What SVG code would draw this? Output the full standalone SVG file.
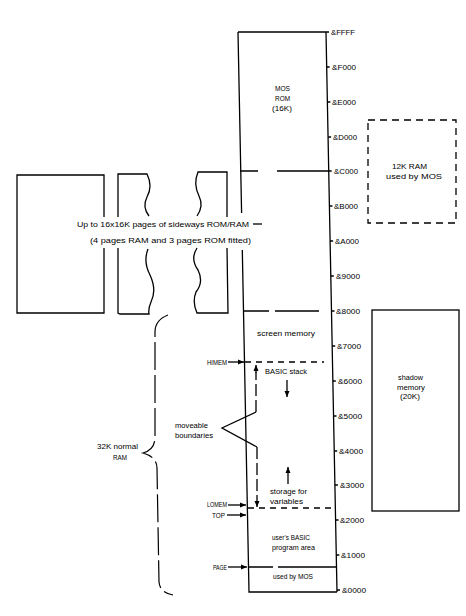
<svg xmlns="http://www.w3.org/2000/svg" width="466" height="616" viewBox="0 0 466 616">
<style>
.l{fill:none;stroke:#000;stroke-width:1.3}
.d{fill:none;stroke:#000;stroke-width:1.3;stroke-dasharray:6 5}
.b{fill:none;stroke:#000;stroke-width:1.2;stroke-dasharray:28 5}
text{font-family:"Liberation Sans",Arial,sans-serif;font-size:8px;fill:#000}
</style>
<defs>
<marker id="ah" markerWidth="6" markerHeight="6" refX="6" refY="3" orient="auto" markerUnits="userSpaceOnUse"><path d="M0,0.5 L6,3 L0,5.5 z" fill="#000"/></marker>
</defs>
<rect width="466" height="616" fill="#fff"/>

<g id="memory-column">
<path class="l" d="M238,32 L326,32 M326,32 L337,592 M238,32 L241.6,213 M242.3,250 L249,592 L337,592"/>
<path class="l" d="M240,171 L258,171 M277,171 L329,171"/>
<path class="l" d="M243,311 L269,311 M275,311 L319,311"/>
<path class="d" d="M245,362 L324,362"/>
<path class="d" d="M248,508 L335,508"/>
<path class="l" d="M248,567 L273,567 M278,567 L336,567"/>
</g>

<g id="mos-rom">
<text x="275" y="91" textLength="15" lengthAdjust="spacingAndGlyphs">MOS</text>
<text x="275" y="101" textLength="15" lengthAdjust="spacingAndGlyphs">ROM</text>
<text x="272" y="111" textLength="20" lengthAdjust="spacingAndGlyphs">(16K)</text>
</g>
<g id="screen-memory">
<text x="257" y="336" textLength="58" lengthAdjust="spacingAndGlyphs">screen memory</text>
</g>
<g id="basic-stack">
<text x="265" y="374" textLength="42" lengthAdjust="spacingAndGlyphs">BASIC stack</text>
</g>
<g id="storage-variables">
<text x="270" y="494" textLength="37" lengthAdjust="spacingAndGlyphs">storage for</text>
<text x="270" y="504" textLength="33" lengthAdjust="spacingAndGlyphs">variables</text>
</g>
<g id="basic-program">
<text x="272" y="540" textLength="38" lengthAdjust="spacingAndGlyphs">user's BASIC</text>
<text x="272" y="550" textLength="43" lengthAdjust="spacingAndGlyphs">program area</text>
</g>
<g id="used-by-mos">
<text x="273" y="579" textLength="40" lengthAdjust="spacingAndGlyphs">used by MOS</text>
</g>

<g id="addresses">
<path class="l" d="M326,32 h3 M326.7,67 h3 M327.4,102 h3 M328.1,137 h3 M328.7,171 h3 M329.4,206 h3 M330.1,241 h3 M330.8,276 h3 M331.5,311 h3 M332.2,346 h3 M332.8,381 h3 M333.5,416 h3 M334.2,451 h3 M334.9,485 h3 M335.6,520 h3 M336.3,555 h3 M337,590 h3"/>
<text x="331" y="35" textLength="24" lengthAdjust="spacingAndGlyphs">&amp;FFFF</text>
<text x="332" y="70" textLength="24" lengthAdjust="spacingAndGlyphs">&amp;F000</text>
<text x="332" y="105" textLength="24" lengthAdjust="spacingAndGlyphs">&amp;E000</text>
<text x="333" y="140" textLength="24" lengthAdjust="spacingAndGlyphs">&amp;D000</text>
<text x="334" y="174" textLength="24" lengthAdjust="spacingAndGlyphs">&amp;C000</text>
<text x="334" y="209" textLength="24" lengthAdjust="spacingAndGlyphs">&amp;B000</text>
<text x="335" y="244" textLength="24" lengthAdjust="spacingAndGlyphs">&amp;A000</text>
<text x="336" y="279" textLength="24" lengthAdjust="spacingAndGlyphs">&amp;9000</text>
<text x="336" y="314" textLength="24" lengthAdjust="spacingAndGlyphs">&amp;8000</text>
<text x="337" y="349" textLength="24" lengthAdjust="spacingAndGlyphs">&amp;7000</text>
<text x="338" y="384" textLength="24" lengthAdjust="spacingAndGlyphs">&amp;6000</text>
<text x="338" y="419" textLength="24" lengthAdjust="spacingAndGlyphs">&amp;5000</text>
<text x="339" y="454" textLength="24" lengthAdjust="spacingAndGlyphs">&amp;4000</text>
<text x="340" y="488" textLength="24" lengthAdjust="spacingAndGlyphs">&amp;3000</text>
<text x="340" y="523" textLength="24" lengthAdjust="spacingAndGlyphs">&amp;2000</text>
<text x="341" y="558" textLength="24" lengthAdjust="spacingAndGlyphs">&amp;1000</text>
<text x="342" y="593" textLength="24" lengthAdjust="spacingAndGlyphs">&amp;0000</text>
</g>

<g id="sideways-pages">
<path class="l" d="M104,217 L104,175 L17,175 L17,313 L104,313 L104,248"/>
<path class="l" d="M118,217 L118,174 L147,174 Q153,186 147,197 Q142,207 149,216"/>
<path class="l" d="M148,249 Q143,262 150,275 Q157,290 151,302 Q148,309 149,314 L120,314 L118,313 L118,248"/>
<path class="l" d="M227,217 L227,172 L198,172 Q193,184 199,196 Q204,206 197,216"/>
<path class="l" d="M197,248 Q190,259 198,270 Q204,282 196,292 Q192,302 197,313 L228,313 L227,248"/>
</g>
<g id="sideways-label">
<text x="77" y="227" textLength="172" lengthAdjust="spacingAndGlyphs">Up to 16x16K pages of sideways ROM/RAM</text>
<text x="90" y="243" textLength="161" lengthAdjust="spacingAndGlyphs">(4 pages RAM and 3 pages ROM fitted)</text>
</g>

<g id="mos-ram-12k">
<rect class="d" x="368" y="120" width="88" height="103" style="stroke-dasharray:7 5"/>
<text x="392" y="169" textLength="35" lengthAdjust="spacingAndGlyphs">12K RAM</text>
<text x="386" y="179" textLength="56" lengthAdjust="spacingAndGlyphs">used by MOS</text>
</g>

<g id="shadow-memory">
<rect class="l" x="372" y="310" width="87" height="201"/>
<text x="398" y="380" textLength="25" lengthAdjust="spacingAndGlyphs">shadow</text>
<text x="397" y="390" textLength="28" lengthAdjust="spacingAndGlyphs">memory</text>
<text x="400" y="399" textLength="20" lengthAdjust="spacingAndGlyphs">(20K)</text>
</g>

<g id="pointer-labels">
<text x="207" y="365" textLength="20" lengthAdjust="spacingAndGlyphs">HIMEM</text>
<text x="207" y="507" textLength="20" lengthAdjust="spacingAndGlyphs">LOMEM</text>
<text x="212" y="518" textLength="13" lengthAdjust="spacingAndGlyphs">TOP</text>
<text x="213" y="570" textLength="14" lengthAdjust="spacingAndGlyphs">PAGE</text>
<text x="175" y="428" textLength="33" lengthAdjust="spacingAndGlyphs">moveable</text>
<text x="175" y="438" textLength="38" lengthAdjust="spacingAndGlyphs">boundaries</text>
</g>

<g id="ram-32k">
<path class="b" d="M168,315 Q155,320 155,332 L155,437 Q155,450 143,453 Q157,457 157,468 L159,582 Q160,593 173,595"/>
<text x="97" y="449" textLength="41" lengthAdjust="spacingAndGlyphs">32K normal</text>
<text x="113" y="460" textLength="14" lengthAdjust="spacingAndGlyphs">RAM</text>
</g>

<g id="connectors">
<path class="l" d="M253,224 L262,224"/>
<path class="l" d="M228,362 L244,362" marker-end="url(#ah)"/>
<path class="l" d="M228,505 L246,505" marker-end="url(#ah)"/>
<path class="l" d="M227,515 L246,515" marker-end="url(#ah)"/>
<path class="l" d="M228,567 L247,567" marker-end="url(#ah)"/>
<path class="l" d="M256,412 L222,428 L257,447"/>
<path class="d" d="M256,412 L256,372" style="stroke-dasharray:12 4"/>
<path class="l" d="M256,373 L256,365" marker-end="url(#ah)"/>
<path class="d" d="M257,447 L257,499" style="stroke-dasharray:12 4"/>
<path class="l" d="M257,499 L257,507" marker-end="url(#ah)"/>
<path class="l" d="M287,380 L287,397" marker-end="url(#ah)"/>
<path class="l" d="M288,484 L288,467" marker-end="url(#ah)"/>
</g>
</svg>
